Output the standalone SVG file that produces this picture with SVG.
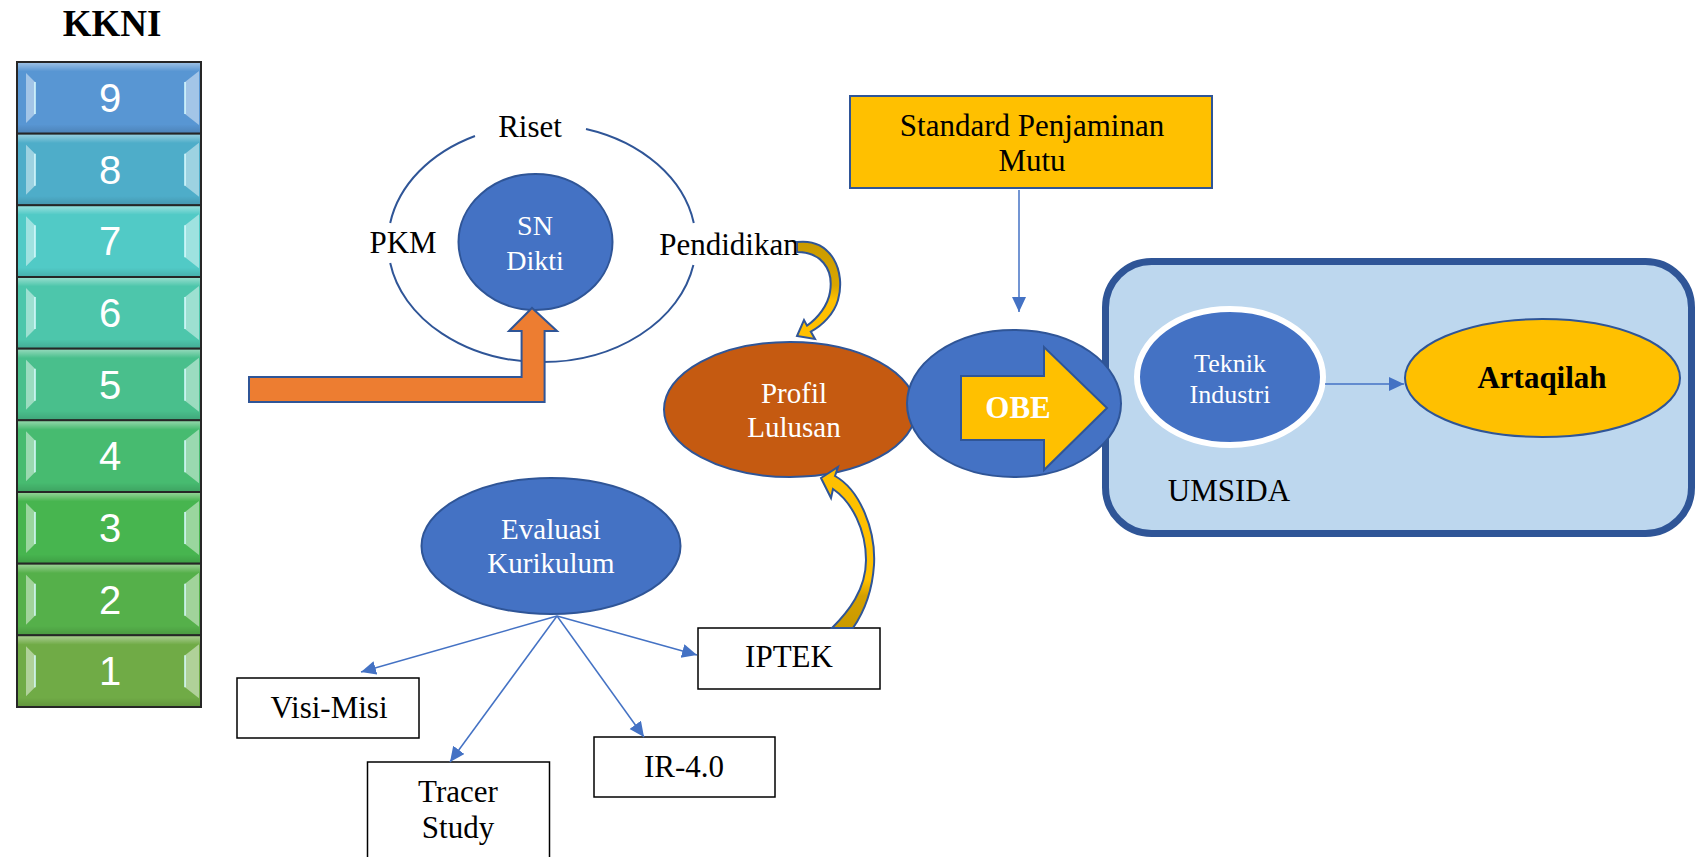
<svg xmlns="http://www.w3.org/2000/svg" width="1695" height="857" viewBox="0 0 1695 857">
<defs>
<style>
.serif{font-family:"Liberation Serif","Times New Roman",serif}
.lbl{font-family:"Liberation Serif","Times New Roman",serif;font-size:31px;fill:#000;text-anchor:middle}
.wtxt{font-family:"Liberation Serif","Times New Roman",serif;fill:#fff;text-anchor:middle}
.cell{stroke:#262626;stroke-width:2}
.dig{font-family:"Liberation Sans",Arial,sans-serif;font-size:40px;fill:#fff;text-anchor:middle}
.hl{fill:#ffffff;fill-opacity:0.45}
.blue{fill:#4472C4;stroke:#2F5597;stroke-width:2}
.box{fill:#fff;stroke:#000;stroke-width:1.5}
.con{fill:none;stroke:#4472C4;stroke-width:1.5;marker-end:url(#ah)}
</style>
<marker id="ah" markerUnits="userSpaceOnUse" markerWidth="16" markerHeight="16" refX="15" refY="7" orient="auto">
<path d="M0,0 L15,7 L0,14 Z" fill="#4472C4"/>
</marker>
<linearGradient id="gloss" x1="0" y1="0" x2="0" y2="1">
<stop offset="0" stop-color="#fff" stop-opacity="0.4"/>
<stop offset="0.12" stop-color="#fff" stop-opacity="0"/>
<stop offset="0.88" stop-color="#000" stop-opacity="0"/>
<stop offset="1" stop-color="#000" stop-opacity="0.12"/>
</linearGradient>
<linearGradient id="g1" x1="0" y1="0" x2="0" y2="1">
<stop offset="0" stop-color="#C99A00"/>
<stop offset="0.45" stop-color="#D9A600"/>
<stop offset="0.6" stop-color="#FFC000"/>
<stop offset="1" stop-color="#FFC000"/>
</linearGradient>
<linearGradient id="g2" x1="0" y1="0" x2="0" y2="1">
<stop offset="0" stop-color="#FFC000"/>
<stop offset="0.7" stop-color="#FFC000"/>
<stop offset="0.8" stop-color="#D4A000"/>
<stop offset="1" stop-color="#C99A00"/>
</linearGradient>
<g id="hlset">
<path class="hl" d="M26,11 L35,20 L35,52 L26,61 Z"/>
<path class="hl" d="M199,9 L185,20 L185,52 L199,63 Z"/>
<path d="M35,20 L35,52" stroke="#d8fbff" stroke-width="1.5"/>
<path d="M185,20 L185,52" stroke="#d8fbff" stroke-width="1.5"/>
</g>
</defs>
<rect width="1695" height="857" fill="#fff"/>

<g id="kkni">
<text x="112" y="36" class="serif" font-size="37" font-weight="bold" text-anchor="middle">KKNI</text>
<g id="lvl9" transform="translate(0,62)"><rect class="cell" x="17" y="0" width="184" height="71.7" fill="#5896D3"/><rect x="18" y="1" width="182" height="69.7" fill="url(#gloss)"/><use href="#hlset"/><text class="dig" x="110" y="50">9</text></g>
<g id="lvl8" transform="translate(0,133.7)"><rect class="cell" x="17" y="0" width="184" height="71.7" fill="#4EADC9"/><rect x="18" y="1" width="182" height="69.7" fill="url(#gloss)"/><use href="#hlset"/><text class="dig" x="110" y="50">8</text></g>
<g id="lvl7" transform="translate(0,205.3)"><rect class="cell" x="17" y="0" width="184" height="71.7" fill="#51CAC6"/><rect x="18" y="1" width="182" height="69.7" fill="url(#gloss)"/><use href="#hlset"/><text class="dig" x="110" y="50">7</text></g>
<g id="lvl6" transform="translate(0,277)"><rect class="cell" x="17" y="0" width="184" height="71.7" fill="#4DC6AB"/><rect x="18" y="1" width="182" height="69.7" fill="url(#gloss)"/><use href="#hlset"/><text class="dig" x="110" y="50">6</text></g>
<g id="lvl5" transform="translate(0,348.7)"><rect class="cell" x="17" y="0" width="184" height="71.7" fill="#49BF8C"/><rect x="18" y="1" width="182" height="69.7" fill="url(#gloss)"/><use href="#hlset"/><text class="dig" x="110" y="50">5</text></g>
<g id="lvl4" transform="translate(0,420.3)"><rect class="cell" x="17" y="0" width="184" height="71.7" fill="#47BB70"/><rect x="18" y="1" width="182" height="69.7" fill="url(#gloss)"/><use href="#hlset"/><text class="dig" x="110" y="50">4</text></g>
<g id="lvl3" transform="translate(0,492)"><rect class="cell" x="17" y="0" width="184" height="71.7" fill="#47B54F"/><rect x="18" y="1" width="182" height="69.7" fill="url(#gloss)"/><use href="#hlset"/><text class="dig" x="110" y="50">3</text></g>
<g id="lvl2" transform="translate(0,563.7)"><rect class="cell" x="17" y="0" width="184" height="71.7" fill="#55B04A"/><rect x="18" y="1" width="182" height="69.7" fill="url(#gloss)"/><use href="#hlset"/><text class="dig" x="110" y="50">2</text></g>
<g id="lvl1" transform="translate(0,635.3)"><rect class="cell" x="17" y="0" width="184" height="71.7" fill="#70AB46"/><rect x="18" y="1" width="182" height="69.7" fill="url(#gloss)"/><use href="#hlset"/><text class="dig" x="110" y="50">1</text></g>
</g>

<g id="cycle">
<path d="M475,136 A154,119 0 0 0 390.2,223 M390.2,263 A154,119 0 0 0 693.4,265 M693.8,223 A154,119 0 0 0 586,129" fill="none" stroke="#2F5597" stroke-width="2"/>
<text class="lbl" x="530" y="137">Riset</text>
<text class="lbl" x="403" y="253">PKM</text>
<text class="lbl" x="729" y="255">Pendidikan</text>
</g>

<g id="sndikti">
<ellipse class="blue" cx="535.5" cy="242" rx="77" ry="68"/>
<text class="wtxt" x="535" y="235" font-size="28">SN</text>
<text class="wtxt" x="535" y="270" font-size="28">Dikti</text>
</g>

<g id="kkni-arrow">
<path d="M249,377 L521.6,377 L521.6,331 L509,331 L532,308 L557,331 L544.6,331 L544.6,402 L249,402 Z" fill="#ED7D31" stroke="#2F5597" stroke-width="2" stroke-linejoin="miter"/>
</g>

<g id="umsida">
<rect x="1105.5" y="261.5" width="586" height="272" rx="46" ry="46" fill="#BDD7EE" stroke="#2F5597" stroke-width="7"/>
<text class="lbl" x="1229" y="501">UMSIDA</text>
</g>

<g id="profil">
<ellipse cx="790" cy="409.5" rx="126" ry="67.5" fill="#C55A11" stroke="#2F5597" stroke-width="2"/>
<text class="wtxt" x="794" y="403" font-size="29">Profil</text>
<text class="wtxt" x="794" y="437" font-size="29">Lulusan</text>
</g>

<g id="obe">
<ellipse class="blue" cx="1014" cy="403.5" rx="107" ry="73.5"/>
<path d="M961,376 L1044,376 L1044,347 L1107,408 L1044,470 L1044,440 L961,440 Z" fill="#FFC000" stroke="#2F5597" stroke-width="2"/>
<text class="wtxt" x="1018" y="418" font-size="31" font-weight="bold">OBE</text>
</g>

<g id="spm">
<rect x="850" y="96" width="362" height="92" fill="#FFC000" stroke="#2F5597" stroke-width="2"/>
<text class="lbl" x="1032" y="136" font-size="32">Standard Penjaminan</text>
<text class="lbl" x="1032" y="171" font-size="32">Mutu</text>
</g>

<g id="teknik">
<ellipse cx="1230" cy="377" rx="93" ry="68" fill="#4472C4" stroke="#fff" stroke-width="6"/>
<text class="wtxt" x="1230" y="372" font-size="26">Teknik</text>
<text class="wtxt" x="1230" y="403" font-size="26">Industri</text>
</g>

<g id="artaqilah">
<ellipse cx="1542.5" cy="378" rx="137.5" ry="59" fill="#FFC000" stroke="#2F5597" stroke-width="2"/>
<text x="1542" y="388" class="serif" font-size="31" font-weight="bold" text-anchor="middle">Artaqilah</text>
</g>

<g id="evaluasi">
<ellipse class="blue" cx="551" cy="546" rx="129.5" ry="68"/>
<text class="wtxt" x="551" y="539" font-size="29">Evaluasi</text>
<text class="wtxt" x="551" y="573" font-size="29">Kurikulum</text>
</g>

<g id="visimisi">
<rect class="box" x="237" y="678" width="182" height="60"/>
<text class="lbl" x="329" y="718">Visi-Misi</text>
</g>
<g id="tracer">
<rect class="box" x="367.5" y="762" width="182" height="110"/>
<text class="lbl" x="458" y="802">Tracer</text>
<text class="lbl" x="458" y="838">Study</text>
</g>
<g id="ir40">
<rect class="box" x="594" y="737" width="181" height="60"/>
<text class="lbl" x="684" y="777">IR-4.0</text>
</g>
<g id="iptek">
<rect class="box" x="698" y="628" width="182" height="61"/>
<text class="lbl" x="789" y="667">IPTEK</text>
</g>

<g id="connectors">
<path class="con" d="M1019,190 L1019,312"/>
<path class="con" d="M1325,384 L1404,384"/>
<path class="con" d="M557,616 L361,672"/>
<path class="con" d="M557,616 L450,762"/>
<path class="con" d="M557,616 L644,737"/>
<path class="con" d="M557,616 L697,655"/>
<path d="M797,242 C832,238 846,272 838,300 C834,314 822,326 810.8,331.6 L815,339 L797,336 L804,320 L807,325.6 C818,318 828,305 830,292 C834,268 820,252 797,252 Z" fill="url(#g1)" stroke="#2F5597" stroke-width="2" stroke-linejoin="miter"/>
<path d="M821,478 L838,467 L835,476 C860,490 876,530 874,565 C872,595 862,615 853,628 L832,628 C848,612 866,590 866,560 C866,530 852,502 833,489 L831,498 Z" fill="url(#g2)" stroke="#2F5597" stroke-width="2" stroke-linejoin="miter"/>
</g>
</svg>
